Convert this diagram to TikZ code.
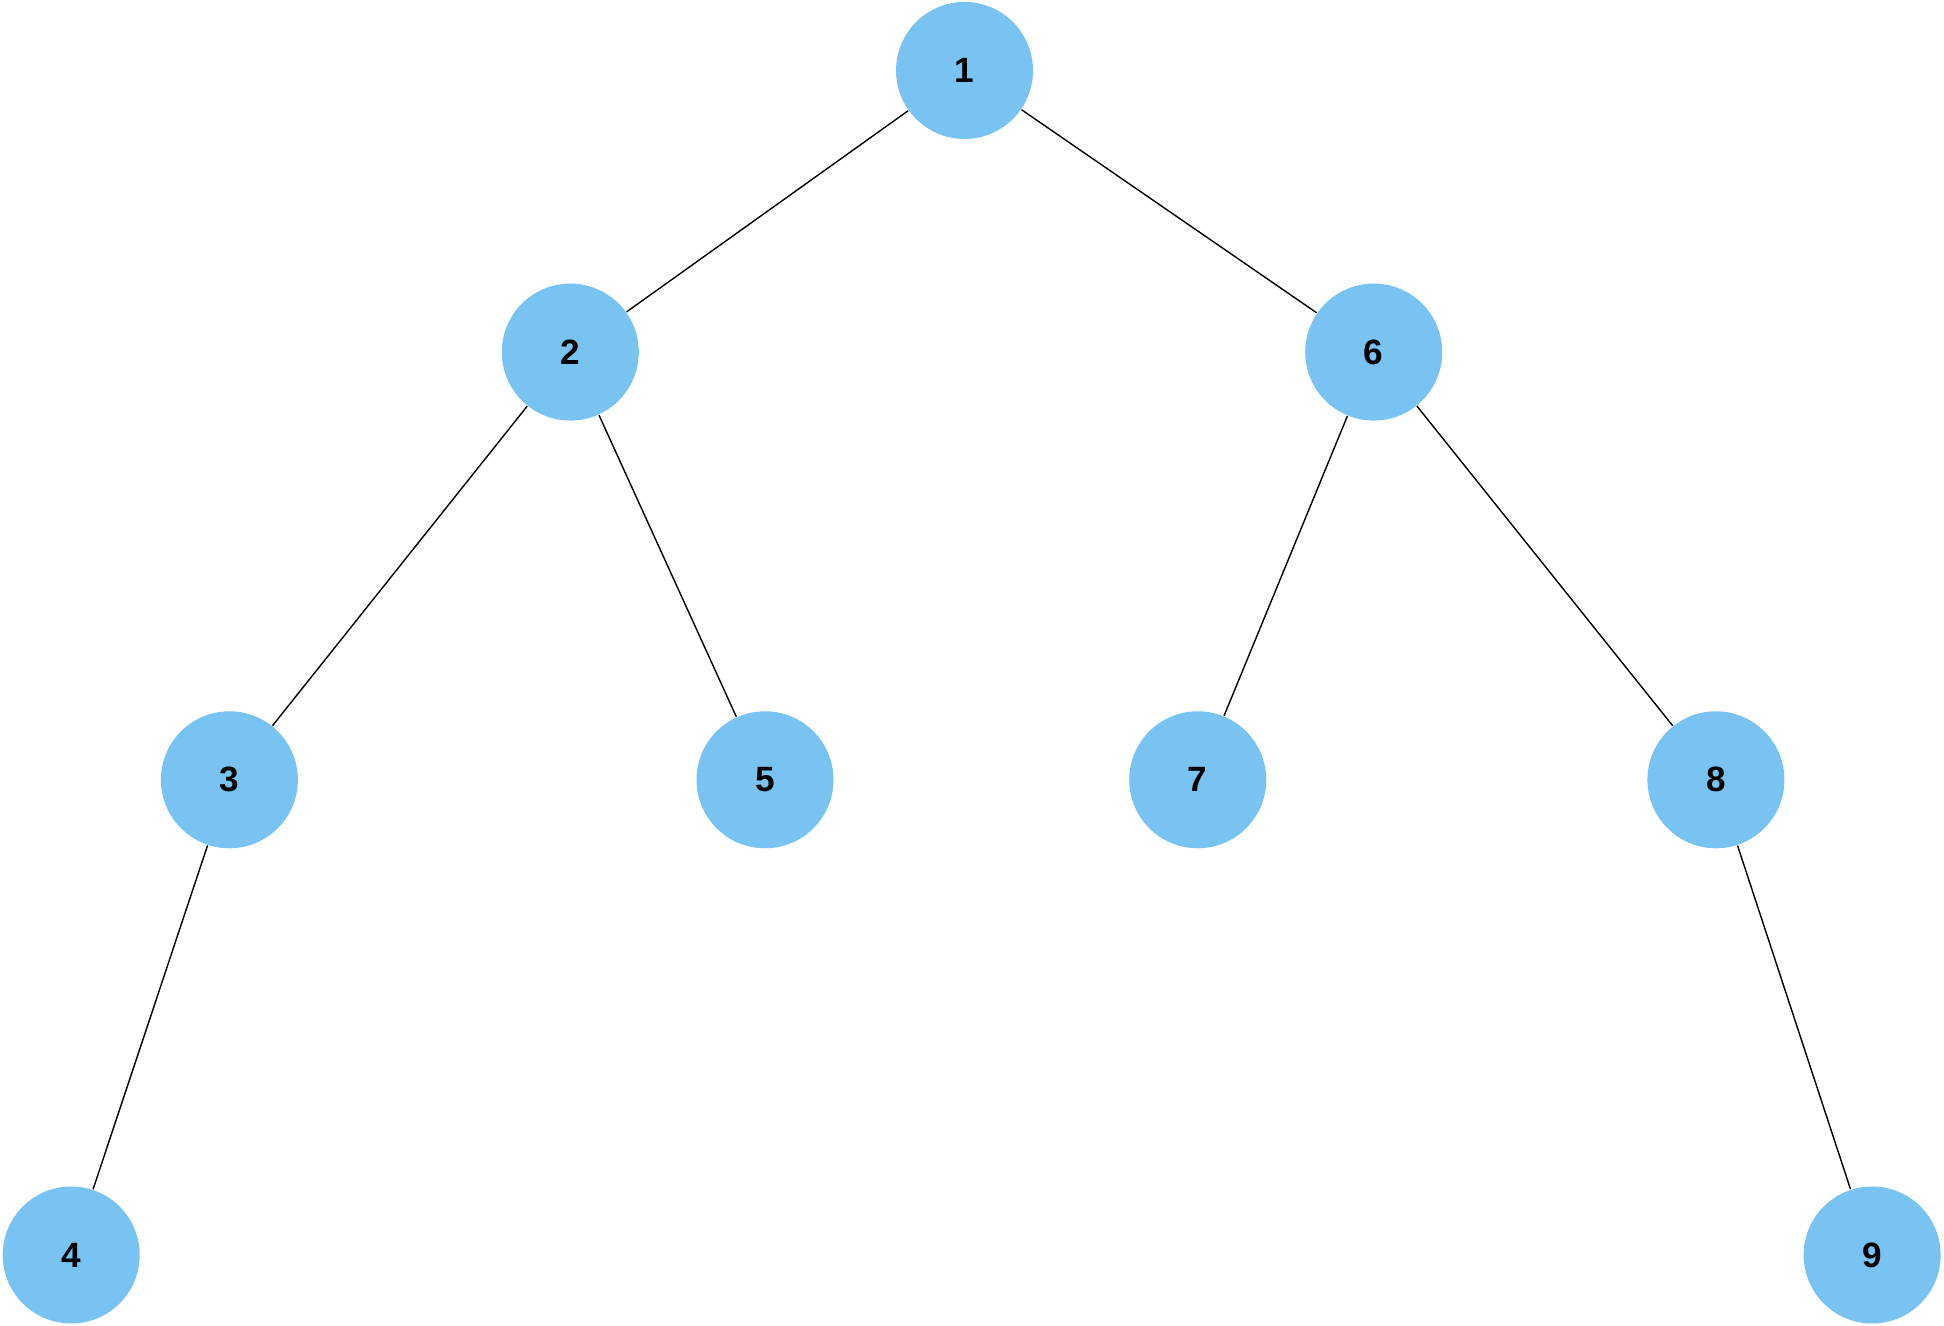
\documentclass[tikz,border=0pt]{standalone}
\usepackage{fontspec}
\setmainfont{Liberation Sans}
\definecolor{nodeblue}{RGB}{120,195,242}
\tikzset{
  treenode/.style={circle, fill=nodeblue, minimum size=1.37cm, inner sep=0pt,
    font=\fontsize{10}{12}\selectfont\bfseries},
  treeedge/.style={line width=0.4pt, black}
}
\begin{document}
\begin{tikzpicture}
    \useasboundingbox (0,0) rectangle (19.44,13.26);
    % Nodes
    \node[treenode] (n1) at (9.645, 12.555) {1};
    \node[treenode] (n2) at (5.703, 9.739) {2};
    \node[treenode] (n6) at (13.737, 9.739) {6};
    \node[treenode] (n3) at (2.294, 5.462) {3};
    \node[treenode] (n5) at (7.650, 5.462) {5};
    \node[treenode] (n7) at (11.977, 5.462) {7};
    \node[treenode] (n8) at (17.159, 5.462) {8};
    \node[treenode] (n4) at (0.712, 0.710) {4};
    \node[treenode] (n9) at (18.721, 0.710) {9};
    % Edges
    \draw[treeedge] (n1) -- (n2);
    \draw[treeedge] (n1) -- (n6);
    \draw[treeedge] (n2) -- (n3);
    \draw[treeedge] (n2) -- (n5);
    \draw[treeedge] (n6) -- (n7);
    \draw[treeedge] (n6) -- (n8);
    \draw[treeedge] (n3) -- (n4);
    \draw[treeedge] (n8) -- (n9);
\end{tikzpicture}
\end{document}
